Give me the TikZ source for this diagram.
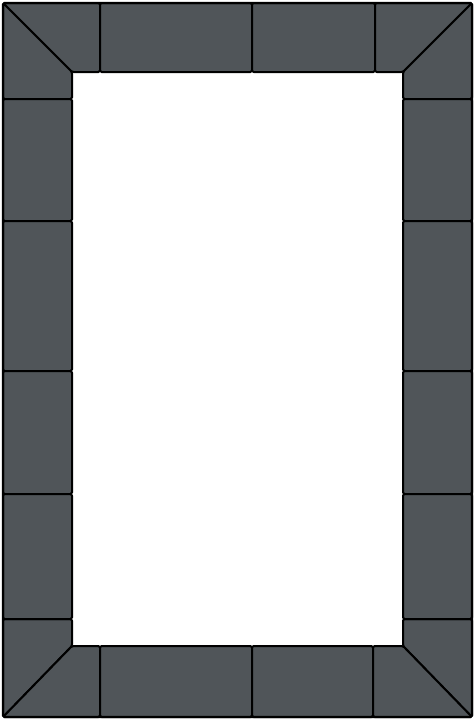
\documentclass[tikz,border=0pt]{standalone}
\usepackage{xcolor}
\definecolor{tilegray}{RGB}{80,85,89}

\begin{document}
\begin{tikzpicture}[
    x=1pt, y=-1pt,
    tile/.style={draw=black, fill=tilegray, line width=2pt, rounded corners=1.5pt, line join=round}
]
\useasboundingbox (0,0) rectangle (475,720);

% Top row
\draw[tile] (3,3) -- (100,3) -- (100,72) -- (72,72) -- cycle;
\draw[tile] (100,3) rectangle (252,72);
\draw[tile] (252,3) rectangle (375,72);
\draw[tile] (375,3) -- (472,3) -- (403,72) -- (375,72) -- cycle;

% Corner pieces of the side columns
\draw[tile] (3,3) -- (72,72) -- (72,99) -- (3,99) -- cycle;
\draw[tile] (472,3) -- (472,99) -- (403,99) -- (403,72) -- cycle;
\draw[tile] (3,717) -- (3,619) -- (72,619) -- (72,646) -- cycle;
\draw[tile] (472,717) -- (403,646) -- (403,619) -- (472,619) -- cycle;

% Left and right columns
\foreach \ya/\yb in {99/221, 221/371, 371/494, 494/619} {
  \draw[tile] (3,\ya) rectangle (72,\yb);
  \draw[tile] (403,\ya) rectangle (472,\yb);
}

% Bottom row
\draw[tile] (3,717) -- (72,646) -- (100,646) -- (100,717) -- cycle;
\draw[tile] (100,646) rectangle (252,717);
\draw[tile] (252,646) rectangle (373,717);
\draw[tile] (373,646) -- (403,646) -- (472,717) -- (373,717) -- cycle;

% Outer edge
\draw[line width=2.4pt, rounded corners=1.5pt] (3,3) rectangle (472,717);

\end{tikzpicture}
\end{document}
